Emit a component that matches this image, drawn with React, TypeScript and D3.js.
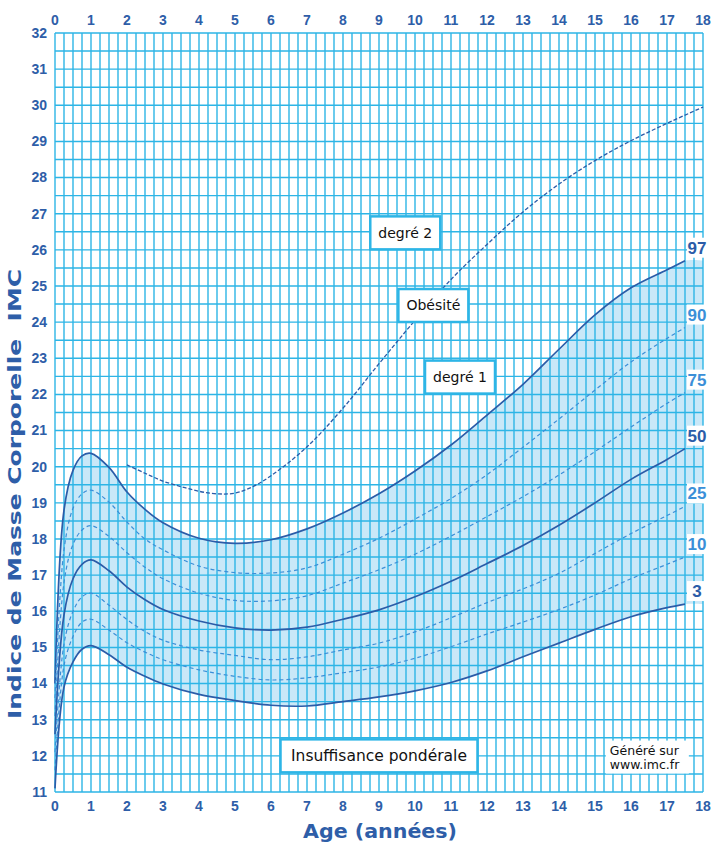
import React from 'react';
import * as d3 from 'd3';

// ages (years) at which the percentile curves were read
const ages = [0, 0.25, 0.5, 0.75, 1, 1.5, 2, 2.5, 3, 4, 5, 6, 7, 8, 9, 10, 11, 12, 13, 14, 15, 16, 17, 17.5];

const p3 = [11.1, 13.9, 14.6, 14.95, 15.05, 14.8, 14.45, 14.2, 13.99, 13.7, 13.53, 13.4, 13.38, 13.5, 13.63, 13.8, 14.03, 14.35, 14.74, 15.12, 15.5, 15.85, 16.1, 16.2];
const p10 = [11.6, 14.5, 15.3, 15.7, 15.78, 15.48, 15.13, 14.87, 14.66, 14.38, 14.2, 14.1, 14.16, 14.3, 14.46, 14.7, 15.02, 15.37, 15.7, 16.05, 16.45, 16.9, 17.3, 17.5];
const p25 = [12.1, 15.1, 16.0, 16.4, 16.5, 16.17, 15.77, 15.44, 15.2, 14.93, 14.78, 14.66, 14.74, 14.93, 15.12, 15.43, 15.82, 16.24, 16.62, 17.05, 17.6, 18.15, 18.65, 18.9];
const p50 = [12.6, 15.9, 16.9, 17.3, 17.42, 17.12, 16.67, 16.32, 16.05, 15.73, 15.54, 15.48, 15.56, 15.78, 16.04, 16.4, 16.83, 17.32, 17.82, 18.38, 19.0, 19.65, 20.2, 20.5];
const p75 = [13.1, 16.8, 17.85, 18.25, 18.37, 18.07, 17.62, 17.22, 16.9, 16.5, 16.3, 16.29, 16.43, 16.78, 17.15, 17.58, 18.08, 18.62, 19.17, 19.77, 20.42, 21.1, 21.75, 22.05];
const p90 = [13.6, 17.7, 18.85, 19.25, 19.35, 19.02, 18.47, 18.0, 17.7, 17.25, 17.07, 17.06, 17.2, 17.58, 18.02, 18.55, 19.12, 19.78, 20.54, 21.32, 22.12, 22.9, 23.55, 23.85];
const p97 = [14.0, 18.8, 19.9, 20.3, 20.37, 19.98, 19.3, 18.82, 18.45, 18.02, 17.88, 17.98, 18.28, 18.72, 19.25, 19.88, 20.6, 21.43, 22.28, 23.25, 24.2, 24.95, 25.45, 25.7];

// obesity degree 2 threshold
const obAges = [2, 2.5, 3, 3.5, 4, 4.5, 5, 5.5, 6, 7, 8, 9, 10, 11, 12, 13, 14, 15, 16, 17, 18];
const obValues = [20.05, 19.82, 19.6, 19.45, 19.32, 19.25, 19.27, 19.45, 19.75, 20.55, 21.62, 22.85, 24.05, 25.18, 26.15, 27.05, 27.82, 28.47, 29.02, 29.5, 29.95];

const curveNames = ['97', '90', '75', '50', '25', '10', '3'];
const curveValues = [p97, p90, p75, p50, p25, p10, p3];
const curveMain = [true, false, false, true, false, false, true];

const xTicks = d3.range(0, 19);
const yTicks = d3.range(11, 33);

const notes = [
  { text: 'degré 2', age: 9.73, bmi: 26.47, w: 70 },
  { text: 'Obésité', age: 10.51, bmi: 24.46, w: 70 },
  { text: 'degré 1', age: 11.25, bmi: 22.48, w: 70 },
  { text: 'Insuffisance pondérale', age: 9.0, bmi: 12.0, w: 197 },
];

const width = 712;
const height = 848;
const gridColor = '#2db5e6';
const darkBlue = '#2b5ca8';
const lightBlue = '#3b8fd8';
const tickFont = '"Liberation Sans Narrow", "Liberation Sans", Arial, sans-serif';
const textFont = '"DejaVu Sans", Verdana, sans-serif';

export default function App() {
  const x = d3.scaleLinear().domain([0, 18]).range([55, 703]);
  const y = d3.scaleLinear().domain([11, 32]).range([792, 33]);

  const smooth = d3.curveCatmullRom.alpha(0.5);

  const line = d3.line<[number, number]>()
    .x(d => x(d[0]))
    .y(d => y(d[1]))
    .curve(smooth);

  // band between P3 and P97, continued flat to the right border
  const bandAges = [...ages, 18];
  const band = d3.area<number>()
    .x(d => x(bandAges[d]))
    .y0(d => y(p3[Math.min(d, p3.length - 1)]))
    .y1(d => y(p97[Math.min(d, p97.length - 1)]))
    .curve(smooth);

  const vLines = d3.range(0, 18.001, 0.25);
  const hLines = d3.range(11, 32.001, 0.5);

  return (
    <svg width={width} height={height} style={{ position: 'absolute', left: 0, top: 0, background: '#fff' }}>
      <path d={band(d3.range(bandAges.length)) || ''} fill="#c9e8f8" />

      <g stroke={gridColor} strokeWidth={1.4}>
        {vLines.map(v => (
          <line key={'v' + v} x1={x(v)} x2={x(v)} y1={y(11)} y2={y(32)} />
        ))}
        {hLines.map(v => (
          <line key={'h' + v} x1={x(0)} x2={x(18)} y1={y(v)} y2={y(v)} />
        ))}
      </g>

      {curveValues.map((vals, i) => (
        <path
          key={curveNames[i]}
          d={line(ages.map((a, j) => [a, vals[j]] as [number, number])) || ''}
          fill="none"
          stroke={curveMain[i] ? darkBlue : lightBlue}
          strokeWidth={curveMain[i] ? 1.7 : 1.2}
          strokeDasharray={curveMain[i] ? undefined : '4 3'}
        />
      ))}

      <path
        d={line(obAges.map((a, j) => [a, obValues[j]] as [number, number])) || ''}
        fill="none"
        stroke={darkBlue}
        strokeWidth={1.3}
        strokeDasharray="4 2"
      />

      {curveValues.map((vals, i) => {
        const cy = y(vals[vals.length - 1]) - 13;
        return (
          <g key={'lab' + curveNames[i]}>
            <rect x={x(17.5) + 2} y={cy - 10} width={20} height={20} fill="#fff" />
            <text
              x={x(17.5) + 12}
              y={cy}
              dy="0.35em"
              textAnchor="middle"
              fontFamily={tickFont}
              fontWeight="bold"
              fontSize={17}
              fill={curveMain[i] ? darkBlue : lightBlue}
            >
              {curveNames[i]}
            </text>
          </g>
        );
      })}

      {notes.map(n => (
        <g key={n.text}>
          <rect x={x(n.age) - n.w / 2} y={y(n.bmi) - 16.5} width={n.w} height={33}
            fill="#fff" stroke={gridColor} strokeWidth={2.5} />
          <text x={x(n.age)} y={y(n.bmi)} dy="0.35em" textAnchor="middle"
            fontFamily={textFont} fontSize={n.w > 100 ? 15.5 : 14} fill="#111">
            {n.text}
          </text>
        </g>
      ))}

      <g>
        <rect x={x(16.44) - 41} y={y(11.98) - 16} width={83} height={33} fill="#fff" />
        <text x={x(16.44) - 37} y={y(11.98) - 6} dy="0.35em" fontFamily={textFont} fontSize={12.5} fill="#111">Généré sur</text>
        <text x={x(16.44) - 37} y={y(11.98) + 8} dy="0.35em" fontFamily={textFont} fontSize={12.5} fill="#111">www.imc.fr</text>
      </g>

      <g fontFamily={tickFont} fontWeight="bold" fontSize={14} fill="#2e5ea8">
        {xTicks.map(t => (
          <text key={'xt' + t} x={x(t)} y={20} dy="0.35em" textAnchor="middle">{t}</text>
        ))}
        {xTicks.map(t => (
          <text key={'xb' + t} x={x(t)} y={806} dy="0.35em" textAnchor="middle">{t}</text>
        ))}
        {yTicks.map(t => (
          <text key={'y' + t} x={47} y={y(t)} dy="0.35em" textAnchor="end">{t}</text>
        ))}
      </g>

      <text x={380} y={831} dy="0.35em" textAnchor="middle" fontFamily={textFont}
        fontWeight="bold" fontSize={20} fill="#2e5ea8" textLength={154} lengthAdjust="spacingAndGlyphs">
        Age (années)
      </text>
      <text transform="translate(15,494) rotate(-90)" dy="0.35em" textAnchor="middle"
        fontFamily={textFont} fontWeight="bold" fontSize={18} fill="#2e5ea8"
        textLength={450} lengthAdjust="spacingAndGlyphs" style={{ whiteSpace: 'pre' }}>
        Indice de Masse Corporelle  IMC
      </text>
    </svg>
  );
}
